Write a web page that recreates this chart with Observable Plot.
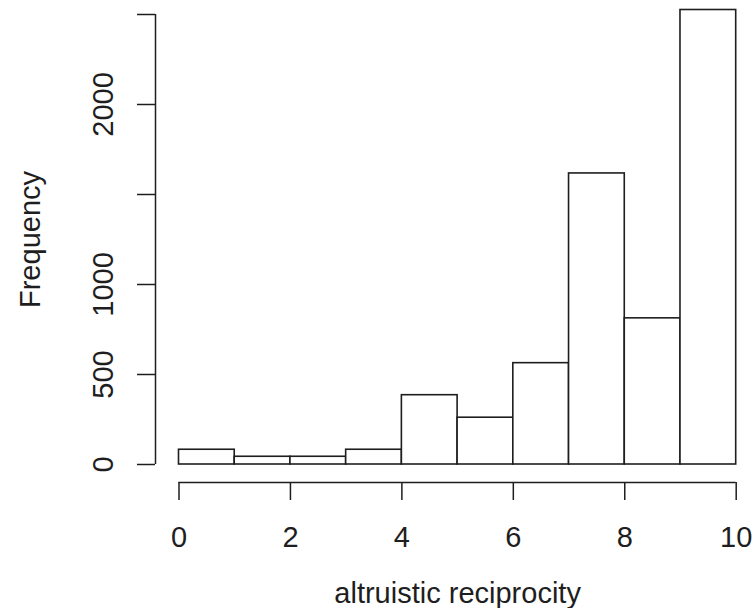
<!DOCTYPE html>
<html>
<head>
<meta charset="utf-8">
<script src="https://cdn.jsdelivr.net/npm/d3@7"></script>
<script src="https://cdn.jsdelivr.net/npm/@observablehq/plot@0.6"></script>
<style>
  html, body { margin: 0; padding: 0; background: #fff; }
  #chart svg { display: block; }
</style>
</head>
<body>
<div id="chart"></div>
<script>
// Histogram bins of "altruistic reciprocity"
const binStarts = [0, 1, 2, 3, 4, 5, 6, 7, 8, 9];
const binEnds   = [1, 2, 3, 4, 5, 6, 7, 8, 9, 10];
const counts    = [82, 43, 43, 82, 385, 260, 563, 1617, 812, 2525];

const xTicks = [0, 2, 4, 6, 8, 10];
const yTicks = [0, 500, 1000, 1500, 2000, 2500];
const yTickLabels = [0, 500, 1000, 2000];

const xTitle = "altruistic reciprocity";
const yTitle = "Frequency";

const bins = binStarts.map((s, i) => ({x1: s, x2: binEnds[i], count: counts[i]}));

const ink = "#1e1e1e";
const fs = 29;

const chart = Plot.plot({
  width: 752,
  height: 608,
  marginLeft: 178.5,
  marginRight: 16.3,
  marginTop: 14,
  marginBottom: 144,
  style: {fontFamily: "'Liberation Sans', Arial, sans-serif", background: "#fff", color: ink},
  x: {domain: [xTicks[0], xTicks[xTicks.length - 1]]},
  y: {domain: [yTicks[0], yTicks[yTicks.length - 1]]},
  marks: [
    Plot.rectY(bins, {x1: "x1", x2: "x2", y: "count", fill: "white", stroke: ink, strokeWidth: 1.6}),
    // x axis (offset below the bars, R style)
    Plot.ruleY([yTicks[0]], {x1: xTicks[0], x2: xTicks[xTicks.length - 1], dy: 18, stroke: ink, strokeWidth: 1.5}),
    Plot.axisX({ticks: xTicks, tickSize: 18, dy: 18, tickPadding: 26, fontSize: fs, stroke: ink, strokeWidth: 1.5, label: null, fill: ink}),
    // y axis (offset left)
    Plot.ruleX([xTicks[0]], {y1: yTicks[0], y2: yTicks[yTicks.length - 1], dx: -23.5, stroke: ink, strokeWidth: 1.5}),
    Plot.axisY({ticks: yTicks, tickSize: 18, dx: -23.5, text: null, label: null, stroke: ink, strokeWidth: 1.5}),
    Plot.text(yTickLabels, {y: d => d, text: d => String(d), frameAnchor: "left", textAnchor: "middle", dx: -75, rotate: -90, fontSize: fs, fill: ink, lineAnchor: "middle"}),
    // titles
    Plot.text([yTitle], {frameAnchor: "left", textAnchor: "middle", dx: -148.5, rotate: -90, fontSize: fs, fill: ink, lineAnchor: "middle"}),
    Plot.text([xTitle], {frameAnchor: "bottom", textAnchor: "middle", dy: 129.7, fontSize: fs, fill: ink, lineAnchor: "middle"})
  ]
});
document.getElementById("chart").appendChild(chart);
</script>
</body>
</html>
